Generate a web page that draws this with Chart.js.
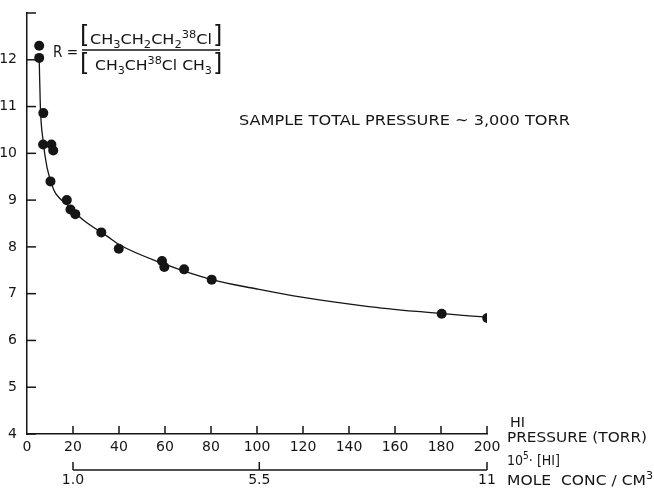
<!DOCTYPE html>
<html>
<head>
<meta charset="utf-8">
<script src="https://cdn.jsdelivr.net/npm/chart.js@4/dist/chart.umd.min.js"></script>
<style>
  html, body { margin: 0; padding: 0; background: #fff; }
  canvas { display: block; }
</style>
</head>
<body>
<canvas id="c" width="654" height="489"></canvas>
<script>
// measured points: HI pressure (torr) vs R
const pressureTorr = [5.3, 5.3, 7.1, 7.0, 10.6, 11.4, 10.2, 17.3, 18.9, 21.0, 32.3, 39.9, 58.7, 59.7, 68.3, 80.3, 180.3, 200.1];
const ratioR = [12.30, 12.04, 10.86, 10.19, 10.19, 10.06, 9.40, 9.00, 8.80, 8.70, 8.31, 7.96, 7.70, 7.57, 7.52, 7.30, 6.57, 6.48];

// hand-drawn smooth curve
const curveTorr = [5.3, 5.8, 7.0, 8.7, 11.6, 14.0, 17.4, 24.6, 34.8, 40, 59.3, 80.3, 100, 118.7, 147.7, 169.4, 180.3, 200, 204];
const curveR = [12.04, 11.0, 10.27, 9.70, 9.22, 9.05, 8.90, 8.57, 8.23, 8.05, 7.64, 7.30, 7.10, 6.93, 6.73, 6.62, 6.575, 6.50, 6.49];

// axes
const yTicks = [4, 5, 6, 7, 8, 9, 10, 11, 12, 13];
const xTicks = [0, 20, 40, 60, 80, 100, 120, 140, 160, 180, 200];
// 10^5 [HI] mole conc / cm3 : 1.0 sits at 20 torr, 11 at 200 torr
const concTicks = [1.0, 5.5, 11];
const concMin = -1 / 9, concMax = 11;

const INK = '#151515';
const FONT = '"DejaVu Sans", sans-serif';

function line(ctx, x1, y1, x2, y2) {
  ctx.beginPath(); ctx.moveTo(x1, y1); ctx.lineTo(x2, y2); ctx.stroke();
}

// draw a string squeezed/stretched to a given width
function fitText(ctx, str, x, y, w) {
  const m = ctx.measureText(str).width;
  ctx.save(); ctx.translate(x, y); ctx.scale(w / m, 1); ctx.fillText(str, 0, 0); ctx.restore();
}

// text with sub/superscripts
function richText(ctx, parts, x, y, w, size) {
  const fontFor = p => (p.sub || p.sup ? Math.round(size * 0.72) : size) + 'px ' + FONT;
  let total = 0;
  parts.forEach(p => { ctx.font = fontFor(p); total += ctx.measureText(p.t).width; });
  ctx.save(); ctx.translate(x, y); ctx.scale(w / total, 1);
  let cx = 0;
  parts.forEach(p => {
    ctx.font = fontFor(p);
    const dy = p.sub ? size * 0.3 : p.sup ? -size * 0.45 : 0;
    ctx.fillText(p.t, cx, dy);
    cx += ctx.measureText(p.t).width;
  });
  ctx.restore();
}

const extras = {
  id: 'extras',
  afterDraw(chart) {
    const { ctx, chartArea: a, scales: { x, y, x2 } } = chart;
    ctx.save();
    ctx.strokeStyle = INK;
    ctx.fillStyle = INK;
    ctx.lineWidth = 1.5;

    // tick marks pointing into the plot
    y.ticks.forEach(t => { const py = y.getPixelForValue(t.value); line(ctx, a.left, py, a.left + 9, py); });
    x.ticks.forEach(t => {
      if (t.value === 0) return;
      const px = x.getPixelForValue(t.value);
      line(ctx, px, a.bottom, px, a.bottom - 8);
    });

    // concentration scale line
    const cy = 470;
    line(ctx, x2.getPixelForValue(concTicks[0]), cy, x2.getPixelForValue(concTicks[concTicks.length - 1]), cy);
    concTicks.forEach(v => { const px = x2.getPixelForValue(v); line(ctx, px, cy, px, cy - 8); });

    ctx.textBaseline = 'alphabetic';
    ctx.textAlign = 'left';

    // formula for R
    ctx.font = '15px ' + FONT;
    fitText(ctx, 'R =', 53, 57, 25);
    ctx.font = '24px ' + FONT;
    ctx.fillText('[', 80, 43);
    ctx.fillText(']', 213, 43);
    ctx.fillText('[', 80, 71);
    ctx.fillText(']', 213, 71);
    ctx.lineWidth = 1.3;
    line(ctx, 82, 50, 220, 50);
    richText(ctx, [{ t: 'CH' }, { t: '3', sub: true }, { t: 'CH' }, { t: '2', sub: true }, { t: 'CH' }, { t: '2', sub: true }, { t: '38', sup: true }, { t: 'Cl' }], 90, 44, 122, 14);
    richText(ctx, [{ t: 'CH' }, { t: '3', sub: true }, { t: 'CH' }, { t: '38', sup: true }, { t: 'Cl CH' }, { t: '3', sub: true }], 95, 70, 117, 14);

    // note
    ctx.font = '14px ' + FONT;
    fitText(ctx, 'SAMPLE TOTAL PRESSURE ~ 3,000 TORR', 239, 125, 331);

    // axis titles at the right
    fitText(ctx, 'HI', 510, 427, 15);
    fitText(ctx, 'PRESSURE (TORR)', 507, 442, 140);
    richText(ctx, [{ t: '10' }, { t: '5', sup: true }, { t: '· [HI]' }], 507, 465, 53, 14);
    richText(ctx, [{ t: 'MOLE  CONC / CM' }, { t: '3', sup: true }], 507, 485, 146, 14);
    ctx.restore();
  }
};

new Chart(document.getElementById('c'), {
  type: 'scatter',
  data: {
    datasets: [
      {
        label: 'R',
        data: pressureTorr.map((p, i) => ({ x: p, y: ratioR[i] })),
        pointRadius: 5,
        pointBackgroundColor: INK,
        pointBorderWidth: 0,
        showLine: false
      },
      {
        label: 'fit',
        data: curveTorr.map((p, i) => ({ x: p, y: curveR[i] })),
        showLine: true,
        pointRadius: 0,
        borderColor: INK,
        borderWidth: 1.3,
        cubicInterpolationMode: 'monotone',
        clip: false
      }
    ]
  },
  options: {
    responsive: false,
    animation: false,
    devicePixelRatio: 1,
    layout: { padding: { left: 0, right: 167, top: 13, bottom: 0 } },
    plugins: { legend: { display: false }, tooltip: { enabled: false } },
    scales: {
      x: {
        type: 'linear', min: 0, max: 200,
        afterBuildTicks: s => { s.ticks = xTicks.map(v => ({ value: v })); },
        afterFit: s => { s.height = 24; },
        grid: { display: false },
        border: { display: true, color: INK, width: 1.5 },
        ticks: { color: INK, font: { family: FONT, size: 14 }, padding: -3, maxRotation: 0, autoSkip: false }
      },
      x2: {
        type: 'linear', position: 'bottom', weight: 1,
        min: concMin, max: concMax,
        afterBuildTicks: s => { s.ticks = concTicks.map(v => ({ value: v })); },
        afterFit: s => { s.height = 31; },
        grid: { display: false },
        border: { display: false },
        ticks: {
          color: INK, font: { family: FONT, size: 14 }, padding: 6, maxRotation: 0, autoSkip: false,
          callback: v => v === 11 ? '11' : v.toFixed(1)
        }
      },
      y: {
        min: 4, max: 13,
        afterBuildTicks: s => { s.ticks = yTicks.map(v => ({ value: v })); },
        afterFit: s => { s.width = 27; },
        grid: { display: false },
        border: { display: true, color: INK, width: 1.5 },
        ticks: {
          color: INK, font: { family: FONT, size: 14 }, padding: 2,
          callback: v => v === 13 ? '' : String(v)
        }
      }
    }
  },
  plugins: [extras]
});
</script>
</body>
</html>
